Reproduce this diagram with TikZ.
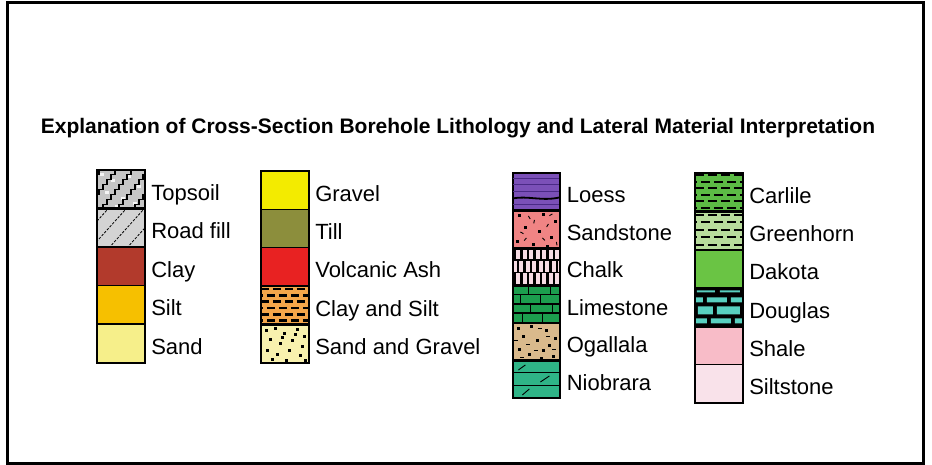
\documentclass[tikz,border=0pt]{standalone}
\usepackage{fontspec}
\setmainfont{Liberation Sans}
\usetikzlibrary{positioning}

\definecolor{topsoilc}{HTML}{C6C6C6}
\definecolor{roadfillc}{HTML}{D3D3D3}
\definecolor{clayc}{HTML}{B23A2C}
\definecolor{siltc}{HTML}{F6C000}
\definecolor{sandc}{HTML}{F6EF8A}
\definecolor{gravelc}{HTML}{F3EB00}
\definecolor{tillc}{HTML}{8C8E3C}
\definecolor{ashc}{HTML}{E82222}
\definecolor{claysiltc}{HTML}{F4A64A}
\definecolor{sandgravelc}{HTML}{F8F1AE}
\definecolor{loessc}{HTML}{7B50B8}
\definecolor{loessdark}{HTML}{4A2A86}
\definecolor{sandstonec}{HTML}{F08484}
\definecolor{chalkc}{HTML}{F6DCE4}
\definecolor{limestonec}{HTML}{1C9E4E}
\definecolor{ogallalac}{HTML}{D9B98C}
\definecolor{niobrarac}{HTML}{2FB487}
\definecolor{carlilec}{HTML}{5CBB45}
\definecolor{greenhornc}{HTML}{B8DC9C}
\definecolor{dakotac}{HTML}{6AC444}
\definecolor{douglasc}{HTML}{58D0C0}
\definecolor{shalec}{HTML}{F8BCC8}
\definecolor{siltstonec}{HTML}{F9E2EA}

\tikzset{
    swatch/.style={draw=black, line width=1.2pt, minimum width=47pt,
        minimum height=38.5pt, inner sep=0pt},
    lab/.style={inner sep=0pt, text height=15.8pt, text depth=0pt,
        font=\fontsize{22}{24}\selectfont, yshift=-3pt},
    % patterns, drawn from a swatch's top left corner, y downwards
    pattopsoil/.pic={
        \foreach \x/\y in {3/4,14/10,30/6,40/16,8/22,24/28,36/33,18/36}
            \fill[white!80!topsoilc] (\x,\y) rectangle ++(4,3);
        \foreach \s in {-30,-14,2,18,34}
            \draw[line width=1.6pt] (\s,40)
                \foreach \k in {1,...,8} {-- ++(4,0) -- ++(0,-5)};
    },
    patroadfill/.pic={
        \foreach \s in {-24,-6,12,30}
            \draw[line width=0.8pt, dash pattern=on 2.5pt off 1.5pt]
                (\s,40) -- ++(36,-40);
    },
    patclaysilt/.pic={
        \foreach \r in {0,...,5}
            \foreach \k in {-1,...,4}
                \draw[line width=2.6pt] ({\k*12+mod(\r,2)*6},{3.5+\r*6.3}) -- ++(8,0);
    },
    patsandgravel/.pic={
        \foreach \x/\y in {4/5,13/3,22/8,35/4,42/11,8/14,18/18,30/15,40/21,
            5/25,15/29,27/25,38/30,10/34,24/35,43/35,33/9,20/12}
            \fill (\x,\y) rectangle ++(2.8,2.8);
    },
    patloess/.pic={
        \foreach \y in {6,12,19,32}
            \draw[loessdark, line width=1.1pt] (0,\y) -- (47,\y);
        \draw[line width=1.8pt] (0,26) .. controls (15,23) and (30,29) .. (47,25);
    },
    patsandstone/.pic={
        \foreach \x/\y in {6/4,30/3,42/10,12/16,26/20,38/26,4/30,20/33,34/35}
            \fill (\x,\y) rectangle ++(2.6,2.6);
        \foreach \x/\y/\a in {16/6/60,36/14/120,8/22/30,22/10/100,
            30/28/45,14/28/130,44/32/80,40/4/150}
            \draw[line width=0.9pt] (\x,\y) -- ++(\a:3.5);
    },
    patchalk/.pic={
        \foreach \r in {0,1,2}
            \foreach \k in {0,...,7}
                \fill ({1.5+\k*6.5+mod(\r,2)*3},{\r*12.5}) rectangle ++(2.4,12.5);
        \foreach \y in {2,12.5,25}
            \draw[line width=1.8pt] (0,\y) -- (47,\y);
    },
    patlimestone/.pic={
        \foreach \y in {9.5,19,28}
            \draw[line width=1.4pt] (0,\y) -- (47,\y);
        \foreach \x/\y in {16/0,38/0,8/9.5,28/9.5,18/19,40/19,10/28,30/28}
            \draw[line width=1.4pt] (\x,\y) -- ++(0,9.5);
    },
    patogallala/.pic={
        \foreach \x/\y in {5/5,18/3,33/7,42/15,10/13,24/17,6/26,16/31,30/27,
            40/33,28/35,36/22}
            \fill (\x,\y) rectangle ++(2.6,2.6);
        \foreach \x/\y in {26/6,2/18,14/22,34/14,22/28,8/35,40/27}
            \draw[line width=1.3pt] (\x,\y) -- ++(4,0);
    },
    patniobrara/.pic={
        \foreach \y in {12.5,25}
            \draw[line width=0.9pt] (0,\y) -- (47,\y);
        \draw[line width=0.9pt] (6,10) -- (13,5) (28,22) -- (37,16)
            (10,35) -- (17,29);
    },
    patcarlile/.pic={
        \foreach \r in {0,...,5}
            \foreach \k in {-1,...,4}
                \draw[line width=2.2pt] ({\k*13+mod(\r,2)*6},{3+\r*6.5}) -- ++(9,0);
    },
    patgreenhorn/.pic={
        \foreach \r in {0,...,4}
            \foreach \k in {-1,...,4}
                \draw[line width=2.2pt] ({\k*13+mod(\r,2)*6},{4+\r*7.5}) -- ++(9,0);
    },
    patdouglas/.pic={
        \fill[douglasc] (2,3) rectangle (20,5) (25,3) rectangle (45,5)
            (0,10) rectangle (8,15) (12,10) rectangle (32,15) (36,10) rectangle (47,15)
            (3,19) rectangle (18,27) (22,19) rectangle (45,27)
            (0,31) rectangle (12,36) (16,31) rectangle (36,36) (40,31) rectangle (47,36);
    },
}

\begin{document}
\begin{tikzpicture}[x=1pt, y=-1pt]
    \useasboundingbox (0,0) rectangle (932,465);
    \draw[line width=3pt] (7,3) rectangle (923,463);

    \node[font=\bfseries\fontsize{21}{24}\selectfont] (title) at (458,128)
        {Explanation of Cross-Section Borehole Lithology and Lateral Material Interpretation};

    % first column
    \node[swatch, fill=topsoilc] (topsoil) at (121,189.3) {};
    \node[swatch, fill=roadfillc] (roadfill) at (121,227.8) {};
    \node[swatch, fill=clayc] (clay) at (121,266.3) {};
    \node[swatch, fill=siltc] (silt) at (121,304.8) {};
    \node[swatch, fill=sandc] (sand) at (121,343.3) {};
    \node[lab, right=6pt of topsoil] (ltopsoil) {Topsoil};
    \node[lab, right=6pt of roadfill] (lroadfill) {Road fill};
    \node[lab, right=6pt of clay] (lclay) {Clay};
    \node[lab, right=6pt of silt] (lsilt) {Silt};
    \node[lab, right=6pt of sand] (lsand) {Sand};

    % second column
    \node[swatch, fill=gravelc] (gravel) at (285,190.2) {};
    \node[swatch, fill=tillc] (till) at (285,228.6) {};
    \node[swatch, fill=ashc] (ash) at (285,267) {};
    \node[swatch, fill=claysiltc] (claysilt) at (285,305.4) {};
    \node[swatch, fill=sandgravelc] (sandgravel) at (285,343.8) {};
    \node[lab, right=6pt of gravel] (lgravel) {Gravel};
    \node[lab, right=6pt of till] (ltill) {Till};
    \node[lab, right=6pt of ash] (lash) {Volcanic Ash};
    \node[lab, right=6pt of claysilt] (lclaysilt) {Clay and Silt};
    \node[lab, right=6pt of sandgravel] (lsandgravel) {Sand and Gravel};

    % third column
    \node[swatch, minimum height=37.5pt, fill=loessc] (loess) at (536.5,191.8) {};
    \node[swatch, minimum height=37.5pt, fill=sandstonec] (sandstone) at (536.5,229.3) {};
    \node[swatch, minimum height=37.5pt, fill=chalkc] (chalk) at (536.5,266.8) {};
    \node[swatch, minimum height=37.5pt, fill=limestonec] (limestone) at (536.5,304.3) {};
    \node[swatch, minimum height=37.5pt, fill=ogallalac] (ogallala) at (536.5,341.8) {};
    \node[swatch, minimum height=37.5pt, fill=niobrarac] (niobrara) at (536.5,379.3) {};
    \node[lab, right=6pt of loess] (lloess) {Loess};
    \node[lab, right=6pt of sandstone] (lsandstone) {Sandstone};
    \node[lab, right=6pt of chalk] (lchalk) {Chalk};
    \node[lab, right=6pt of limestone] (llimestone) {Limestone};
    \node[lab, right=6pt of ogallala] (logallala) {Ogallala};
    \node[lab, right=6pt of niobrara] (lniobrara) {Niobrara};

    % fourth column
    \node[swatch, fill=carlilec] (carlile) at (719,192.2) {};
    \node[swatch, fill=greenhornc] (greenhorn) at (719,230.5) {};
    \node[swatch, fill=dakotac] (dakota) at (719,268.8) {};
    \node[swatch, fill=black] (douglas) at (719,307.1) {};
    \node[swatch, fill=shalec] (shale) at (719,345.4) {};
    \node[swatch, fill=siltstonec] (siltstone) at (719,383.7) {};
    \node[lab, right=6pt of carlile] (lcarlile) {Carlile};
    \node[lab, right=6pt of greenhorn] (lgreenhorn) {Greenhorn};
    \node[lab, right=6pt of dakota] (ldakota) {Dakota};
    \node[lab, right=6pt of douglas] (ldouglas) {Douglas};
    \node[lab, right=6pt of shale] (lshale) {Shale};
    \node[lab, right=6pt of siltstone] (lsiltstone) {Siltstone};

    % patterns on top of the fills
    \foreach \n in {topsoil,roadfill,claysilt,sandgravel,loess,sandstone,chalk,
        limestone,ogallala,niobrara,carlile,greenhorn,douglas} {
        \begin{scope}
            \clip (\n.north west) rectangle (\n.south east);
            \pic at (\n.north west) {pat\n};
        \end{scope}
        \draw[line width=1.2pt] (\n.north west) rectangle (\n.south east);
    }

    % column outlines
    \draw[line width=1.6pt] (topsoil.north west) rectangle (sand.south east);
    \draw[line width=1.6pt] (gravel.north west) rectangle (sandgravel.south east);
    \draw[line width=1.6pt] (loess.north west) rectangle (niobrara.south east);
    \draw[line width=1.6pt] (carlile.north west) rectangle (siltstone.south east);
\end{tikzpicture}
\end{document}
